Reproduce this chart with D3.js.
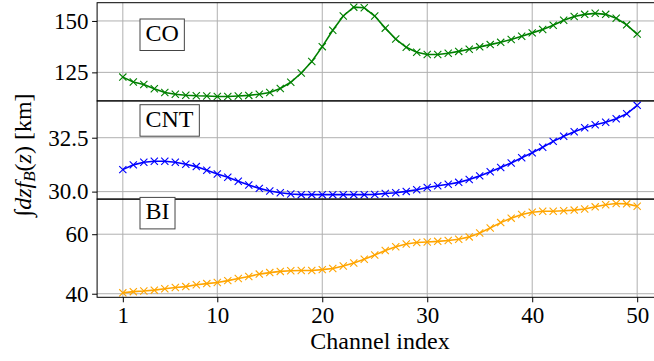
<!DOCTYPE html>
<html>
<head>
<meta charset="utf-8">
<script src="https://d3js.org/d3.v7.min.js"></script>
<style>
    body { margin: 0; background: #fff; }
    svg text { font-family: "Liberation Serif", "Times New Roman", serif; fill: #000; }
    .grid line { stroke: #b0b0b0; stroke-width: 1; }
</style>
</head>
<body>
<svg width="654" height="361"></svg>
<script>

// channel index 1..50
var channels = [1,2,3,4,5,6,7,8,9,10,11,12,13,14,15,16,17,18,19,20,21,22,23,24,25,
    26,27,28,29,30,31,32,33,34,35,36,37,38,39,40,41,42,43,44,45,46,47,48,49,50];

var coValues = [122.7,120.3,119.1,117.0,115.2,114.4,113.9,113.6,113.5,113.3,
    113.3,113.5,113.8,114.4,115.2,117.2,120.2,124.7,130.3,137.5,
    145.5,152.4,156.7,156.4,152.4,146.5,141.2,137.2,134.8,133.7,
    133.7,134.3,135.2,136.2,137.4,138.5,139.6,141.0,142.6,144.2,
    145.8,147.9,150.3,152.2,153.2,153.7,153.2,151.3,148.1,143.6];

var cntValues = [31.02,31.24,31.36,31.41,31.41,31.36,31.27,31.16,30.99,30.82,
    30.67,30.48,30.31,30.15,30.03,29.95,29.89,29.86,29.86,29.86,
    29.86,29.86,29.86,29.86,29.87,29.91,29.95,30.01,30.09,30.19,
    30.27,30.34,30.43,30.56,30.73,30.92,31.12,31.33,31.57,31.80,
    32.06,32.33,32.57,32.78,32.96,33.10,33.22,33.38,33.61,34.00];

var biValues = [40.3,40.7,40.9,41.2,41.7,42.1,42.4,43.0,43.4,43.8,
    44.4,45.1,45.8,46.6,47.1,47.5,47.7,47.8,47.8,48.1,
    48.5,49.3,50.3,51.6,53.0,54.5,55.8,56.7,57.2,57.4,
    57.6,57.9,58.3,59.1,60.4,62.1,63.9,65.4,66.6,67.4,
    67.7,67.7,67.9,68.1,68.5,69.2,69.9,70.3,70.2,69.4];

var panelNames = ["CO", "CNT", "BI"];
var panelColors = ["green", "blue", "orange"];
var panelTicks = [[125, 150], [30.0, 32.5], [40, 60]];
var xTicks = [1, 10, 20, 30, 40, 50];

var svg = d3.select("svg"),
    left = 97.1,
    right = 662.9,
    plotTop = 2.7,
    panelH = 98.2,
    fs = 23;

var series = [coValues, cntValues, biValues];
var tickFormats = [d3.format("d"), d3.format(".1f"), d3.format("d")];
// label baselines, offset from each panel's top edge
var labelOffsets = [38.3, 25.8, 20.3];

var x = d3.scaleLinear()
    .domain([1 - 0.05 * 49, 50 + 0.05 * 49])
    .range([left, right]);

var plotBottom = plotTop + 3 * panelH;

// vertical grid through all panels
svg.append("g")
    .attr("class", "grid")
    .selectAll("line")
    .data(xTicks)
    .enter().append("line")
    .attr("x1", function (d) { return x(d); })
    .attr("x2", function (d) { return x(d); })
    .attr("y1", plotTop)
    .attr("y2", plotBottom);

series.forEach(function (vals, i) {
    var y0 = plotTop + i * panelH;
    var ext = d3.extent(vals),
        pad = (ext[1] - ext[0]) * 0.05;
    var y = d3.scaleLinear()
        .domain([ext[0] - pad, ext[1] + pad])
        .range([y0 + panelH, y0]);

    var g = svg.append("g");

    g.append("g")
        .attr("class", "grid")
        .selectAll("line")
        .data(panelTicks[i])
        .enter().append("line")
        .attr("x1", left)
        .attr("x2", right)
        .attr("y1", function (d) { return y(d); })
        .attr("y2", function (d) { return y(d); });

    var line = d3.line()
        .x(function (d, k) { return x(channels[k]); })
        .y(function (d) { return y(d); });

    g.append("path")
        .datum(vals)
        .attr("fill", "none")
        .attr("stroke", panelColors[i])
        .attr("stroke-width", 1.6)
        .attr("d", line);

    var s = 3.6;
    g.selectAll(".mk")
        .data(vals)
        .enter().append("path")
        .attr("class", "mk")
        .attr("fill", "none")
        .attr("stroke", panelColors[i])
        .attr("stroke-width", 1.1)
        .attr("d", function (d, k) {
            var cx = x(channels[k]), cy = y(d);
            return "M" + (cx - s) + "," + (cy - s) + "L" + (cx + s) + "," + (cy + s) +
                "M" + (cx - s) + "," + (cy + s) + "L" + (cx + s) + "," + (cy - s);
        });

    // y axis
    var ay = g.append("g")
        .attr("transform", "translate(" + left + ",0)")
        .call(d3.axisLeft(y).tickValues(panelTicks[i]).tickFormat(tickFormats[i])
            .tickSize(5).tickPadding(3.5));
    ay.select(".domain").remove();
    ay.selectAll("text").style("font-size", fs + "px").attr("font-family", null);
    ay.selectAll("line").attr("stroke", "#000");

    // panel frame
    g.append("rect")
        .attr("x", left)
        .attr("y", y0)
        .attr("width", right - left)
        .attr("height", panelH)
        .attr("fill", "none")
        .attr("stroke", "#000")
        .attr("stroke-width", 1);

    // name box
    var box = g.append("rect");
    var lab = g.append("text")
        .attr("x", 145.5)
        .attr("y", y0 + labelOffsets[i])
        .style("font-size", "24px")
        .text(panelNames[i]);
    var bb = lab.node().getBBox();
    box.attr("x", bb.x - 5.5)
        .attr("y", y0 + labelOffsets[i] - 22)
        .attr("width", bb.width + 11)
        .attr("height", 31.5)
        .attr("fill", "#fff")
        .attr("stroke", "#444")
        .attr("stroke-width", 1);
});

// x axis
var ax = svg.append("g")
    .attr("transform", "translate(0," + plotBottom + ")")
    .call(d3.axisBottom(x).tickValues(xTicks).tickSize(5).tickPadding(4));
ax.select(".domain").remove();
ax.selectAll("text").style("font-size", fs + "px").attr("font-family", null);
ax.selectAll("line").attr("stroke", "#000");

svg.append("text")
    .attr("x", 380)
    .attr("y", 349)
    .attr("text-anchor", "middle")
    .style("font-size", "24px")
    .text("Channel index");

// y label: ∫dz f_B(z) [km]
var yl = svg.append("text")
    .attr("transform", "translate(31," + (plotTop + 1.55 * panelH) + ") rotate(-90)")
    .attr("text-anchor", "middle")
    .style("font-size", "24px");
yl.append("tspan").text("\u222B");
yl.append("tspan").style("font-style", "italic").text("dz");
yl.append("tspan").style("font-style", "italic").text("f");
yl.append("tspan").style("font-style", "italic").style("font-size", "17px").attr("dy", 4).text("B");
yl.append("tspan").attr("dy", -4).text("(");
yl.append("tspan").style("font-style", "italic").text("z");
yl.append("tspan").text(") [km]");

</script>
</body>
</html>
